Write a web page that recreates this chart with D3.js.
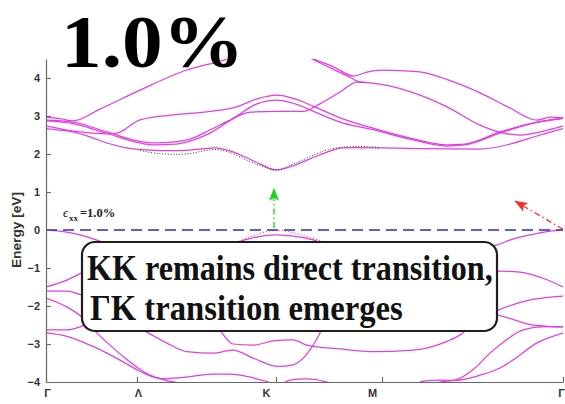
<!DOCTYPE html>
<html>
<head>
<meta charset="utf-8">
<script src="https://cdn.jsdelivr.net/npm/d3@7"></script>
<style>
  body { margin: 0; background: #fff; }
  svg { display: block; }
</style>
</head>
<body>
<svg id="chart" width="565" height="404"></svg>
<script>
// k-path through the Brillouin zone and energy ticks
const kLabels = ["Γ", "Λ", "K", "M", "Γ"];
const kPoints = [0, 0.91, 2.30, 3.36, 5.17];
const energyTicks = [-4, -3, -2, -1, 0, 1, 2, 3, 4];
const strainText = "1.0%";

// conduction bands, [k, E(eV)]
const cbA = [[0,2.97],[0.14,2.93],[0.27,2.87],[0.54,3.18],[0.94,3.68],[1.41,4.21],[1.71,4.42],[1.99,4.62],[2.30,4.78],[2.50,4.72],[2.65,4.53],[2.87,4.30],[3.08,4.05],[3.20,4.15],[3.36,4.21],[3.74,4.16],[4.02,3.95],[4.34,3.61],[4.64,3.21],[4.91,2.89],[5.04,2.97],[5.17,2.95]];
const cbA2 = [[2.50,4.70],[2.70,4.45],[2.88,4.22],[3.04,4.02],[3.11,3.92],[3.20,3.88]];
const cbB = [[0,2.89],[0.27,2.84],[0.61,2.58],[0.94,2.33],[1.09,2.29],[1.29,2.32],[1.44,2.39],[1.64,2.63],[1.84,2.89],[2.04,3.10],[2.30,3.12],[2.57,3.12],[2.74,3.32],[2.94,3.63],[3.11,3.89],[3.34,3.84],[3.74,3.55],[4.01,3.24],[4.34,2.76],[4.54,2.57],[4.74,2.50],[4.99,2.61],[5.17,2.74]];
const cbC = [[0,2.74],[0.34,2.58],[0.61,2.53],[0.71,2.55],[0.94,2.90],[1.27,3.03],[1.64,3.12],[1.91,3.24],[2.11,3.45],[2.31,3.55],[2.49,3.45],[2.67,3.26],[2.94,2.95],[3.27,2.68],[3.64,2.42],[4.01,2.24],[4.19,2.26],[4.54,2.58],[4.91,2.84],[5.17,2.95]];
const cbE = [[0,2.87],[0.27,2.80],[0.61,2.54],[0.94,2.29],[1.09,2.24],[1.29,2.26],[1.44,2.34],[1.64,2.55],[1.89,2.97],[2.11,3.32],[2.31,3.42],[2.49,3.32],[2.67,3.13],[2.94,2.84],[3.27,2.64],[3.64,2.39],[4.01,2.21],[4.19,2.24],[4.54,2.55],[4.91,2.83],[5.17,2.93]];
const cbD = [[0,2.67],[0.14,2.63],[0.27,2.58],[0.44,2.45],[0.61,2.29],[0.79,2.17],[0.94,2.12],[1.14,2.09],[1.34,2.09],[1.54,2.13],[1.69,2.16],[1.84,2.08],[1.99,1.92],[2.14,1.74],[2.30,1.58],[2.46,1.68],[2.64,1.87],[2.79,2.03],[2.97,2.16],[3.14,2.17],[3.36,2.16],[3.74,2.14],[4.34,2.13],[4.64,2.26],[4.94,2.50],[5.17,2.67]];
// unstrained lowest conduction band (dotted)
const cbD0 = [[0.94,2.09],[1.14,2.01],[1.29,1.99],[1.44,2.01],[1.59,2.09],[1.69,2.12],[1.84,2.04],[1.99,1.86],[2.14,1.70],[2.30,1.58],[2.46,1.72],[2.64,1.93],[2.79,2.09],[2.97,2.18],[3.14,2.20],[3.34,2.17]];

// valence bands, [k, E(eV)]
const vb1 = [[0,0],[0.14,-0.03],[0.34,-0.13],[0.57,-0.32],[0.94,-0.58],[1.34,-0.66],[1.69,-0.53],[1.94,-0.30],[2.12,-0.18],[2.30,-0.13],[2.49,-0.17],[2.67,-0.26],[2.94,-0.53],[3.36,-0.68],[3.84,-0.68],[4.24,-0.55],[4.51,-0.39],[4.69,-0.22],[4.84,-0.13],[5.04,-0.03],[5.17,0]];
// unstrained top valence band near K (red dotted)
const vb1Ref = [[1.90,-0.34],[2.04,-0.18],[2.16,-0.07],[2.30,-0.01],[2.44,-0.05],[2.59,-0.16],[2.77,-0.30]];
const vb2 = [[0,-1.50],[0.19,-1.34],[0.36,-1.13],[0.84,-0.84],[1.54,-0.92],[2.30,-1.18],[3.36,-1.45],[4.04,-1.18],[4.52,-1.08],[4.74,-1.11],[4.99,-1.29],[5.17,-1.50]];
const vb3 = [[0,-1.61],[0.21,-1.61],[0.36,-1.71],[0.74,-1.84],[1.54,-2.37],[1.74,-2.66],[1.87,-3.00],[2.07,-3.03],[2.27,-2.92],[2.47,-2.89],[2.61,-3.03],[2.94,-3.13],[3.27,-3.20],[3.67,-3.16],[4.01,-2.93],[4.14,-2.76],[4.19,-2.66],[4.34,-2.32],[4.52,-2.11],[4.84,-1.84],[5.17,-1.74]];
const vb4 = [[0,-1.79],[0.19,-2.00],[0.34,-2.25],[0.49,-2.66],[0.64,-3.03],[0.79,-3.37],[0.91,-3.61],[1.04,-3.82],[1.19,-3.95],[1.39,-4.05],[1.84,-4.26],[2.54,-4.47],[3.36,-4.42],[3.74,-4.16],[3.94,-4.00],[4.09,-3.95],[4.29,-3.63],[4.44,-3.24],[4.59,-2.92],[4.77,-2.63],[4.99,-2.54],[5.17,-2.55]];
const vb5 = [[0,-2.63],[0.21,-2.63],[0.34,-2.55],[0.47,-2.42],[0.74,-2.37],[0.99,-2.66],[1.19,-2.95],[1.41,-3.20],[1.67,-3.24],[1.87,-3.16],[2.07,-3.37],[2.32,-3.59],[2.47,-3.55],[2.61,-3.26],[2.74,-2.71],[2.84,-2.11],[3.36,-1.84],[4.04,-1.97],[4.52,-2.24],[4.69,-2.37],[4.81,-2.47],[4.99,-2.53],[5.17,-2.55]];
const vb6 = [[0,-2.71],[0.21,-2.80],[0.44,-3.03],[0.61,-3.24],[0.79,-3.50],[0.91,-3.68],[1.04,-3.84],[1.17,-3.91],[1.44,-3.86],[1.67,-3.79],[1.84,-3.79],[2.07,-3.89],[2.21,-3.99],[2.32,-4.08],[2.44,-3.95],[2.61,-3.92],[2.81,-4.00],[3.04,-4.21],[3.36,-4.29],[3.64,-4.11],[3.79,-3.97],[3.94,-3.95],[4.09,-3.96],[4.34,-3.82],[4.54,-3.63],[4.67,-3.42],[4.91,-2.97],[5.17,-2.71]];

// transitions: K->K (direct) and Gamma->K
const transKK = [[2.28, 0.05], [2.28, 1.10]];
const transGK = [[5.17, 0.02], [4.69, 0.76]];

const svg = d3.select("#chart");
const margin = { left: 46, right: 2, top: 59, bottom: 22 };
const W = 565, H = 404;

const x = d3.scaleLinear().domain([0, 5.17]).range([margin.left, W - margin.right]);
const y = d3.scaleLinear().domain([-4, 4.5]).range([H - margin.bottom, margin.top]);

const defs = svg.append("defs");
defs.append("clipPath").attr("id", "plotClip")
  .append("rect")
  .attr("x", x(0)).attr("y", y(4.5))
  .attr("width", x(5.17) - x(0)).attr("height", y(-4) - y(4.5));

function arrowMarker(id, color) {
  defs.append("marker")
    .attr("id", id)
    .attr("viewBox", "0 0 13 10")
    .attr("refX", 12.5).attr("refY", 5)
    .attr("markerWidth", 13).attr("markerHeight", 10)
    .attr("markerUnits", "userSpaceOnUse")
    .attr("orient", "auto")
    .append("path")
    .attr("d", "M0,0 L13,5 L0,10 L3,5 Z")
    .attr("fill", color);
}
arrowMarker("headGreen", "#19d419");
arrowMarker("headRed", "#ff2b2b");

const line = d3.line().x(d => x(d[0])).y(d => y(d[1])).curve(d3.curveMonotoneX);

const plot = svg.append("g").attr("clip-path", "url(#plotClip)");

const bands = [cbA, cbA2, cbB, cbC, cbE, cbD, vb1, vb2, vb3, vb4, vb5, vb6];
plot.selectAll("path.band").data(bands).join("path")
  .attr("class", "band")
  .attr("d", line)
  .attr("fill", "none")
  .attr("stroke", "#e23ee2")
  .attr("stroke-width", 1.25);

plot.append("path").attr("d", line(cbD0))
  .attr("fill", "none").attr("stroke", "#333")
  .attr("stroke-width", 1).attr("stroke-dasharray", "1,1.8");

plot.append("path").attr("d", line(vb1Ref))
  .attr("fill", "none").attr("stroke", "#ff5050")
  .attr("stroke-width", 1.1).attr("stroke-dasharray", "1.2,2");

// Fermi level
plot.append("line")
  .attr("x1", x(0)).attr("x2", x(5.17))
  .attr("y1", y(0)).attr("y2", y(0))
  .attr("stroke", "#2b2bc8").attr("stroke-width", 1.3)
  .attr("stroke-dasharray", "11,6");

// axes
const yAxis = d3.axisLeft(y).tickValues(energyTicks).tickSize(-5).tickSizeOuter(0).tickPadding(6);
const gy = svg.append("g").attr("transform", `translate(${x(0)},0)`).call(yAxis);
const xAxis = d3.axisBottom(x).tickValues(kPoints).tickSize(-5).tickSizeOuter(0).tickPadding(7)
  .tickFormat((d, i) => kLabels[i]);
const gx = svg.append("g").attr("transform", `translate(0,${y(-4)})`).call(xAxis);

[gx, gy].forEach(g => {
  g.select(".domain").attr("stroke", "#666").attr("stroke-width", 1.2);
  g.selectAll(".tick line").attr("stroke", "#666").attr("stroke-width", 1.1);
  g.selectAll(".tick text")
    .attr("fill", "#333")
    .style("font-family", "'Liberation Sans', Arial, sans-serif")
    .style("font-weight", "bold")
    .style("font-size", "11px");
});
gx.selectAll(".tick text").attr("dx", (d, i) => (i === 2 || i === 3) ? -10 : (i === 4 ? -2 : 1));

// text stretched horizontally to a given width with its baseline at (tx, ty)
function fitText(parent, str, tx, ty, width, style) {
  const t = parent.append("text").text(str);
  Object.entries(style).forEach(([k, v]) => t.style(k, v));
  const natural = t.node().getComputedTextLength();
  t.attr("transform", `translate(${tx},${ty}) scale(${width / natural},1)`);
  return t;
}

// y-axis title
const yTitle = svg.append("g").attr("transform", `translate(21,${y(0)}) rotate(-90)`);
fitText(yTitle, "Energy [eV]", -38, 0, 76, {
  "font-family": "'Liberation Sans', Arial, sans-serif",
  "font-weight": "bold", "font-size": "12px", "fill": "#333"
});

// strain label
const eps = svg.append("text")
  .attr("x", 63).attr("y", 217)
  .style("font-family", "'Liberation Serif', 'Times New Roman', serif")
  .attr("fill", "#222");
eps.append("tspan").style("font-style", "italic").style("font-size", "13px").text("ϵ");
eps.append("tspan").attr("x", 69).attr("dy", 4).style("font-size", "9px").style("font-weight", "bold").text("xx");
eps.append("tspan").attr("x", 80).attr("dy", -4).style("font-size", "12.5px").style("font-weight", "bold").text("=" + strainText);

// transition arrows
svg.append("path").attr("d", d3.line().x(d => x(d[0])).y(d => y(d[1]))(transKK))
  .attr("stroke", "#19d419").attr("stroke-width", 1.3).attr("fill", "none")
  .attr("stroke-dasharray", "6,3,1.5,3")
  .attr("marker-end", "url(#headGreen)");
svg.append("path").attr("d", d3.line().x(d => x(d[0])).y(d => y(d[1]))(transGK))
  .attr("stroke", "#ff2b2b").attr("stroke-width", 1.3).attr("fill", "none")
  .attr("stroke-dasharray", "6,3,1.5,3")
  .attr("marker-end", "url(#headRed)");

// annotation box
svg.append("rect")
  .attr("x", 82).attr("y", 242).attr("width", 415).attr("height", 89)
  .attr("rx", 13).attr("ry", 13)
  .attr("fill", "#fff").attr("stroke", "#1e1e1e").attr("stroke-width", 2.2);

const noteStyle = {
  "font-family": "'Liberation Serif', 'Times New Roman', serif",
  "font-weight": "bold", "font-size": "36px", "fill": "#111"
};
fitText(svg, "KK remains direct transition,", 87, 280, 406, noteStyle);
fitText(svg, "ΓK transition emerges", 90, 320, 313, noteStyle);

// title
fitText(svg, strainText, 61, 67, 183, {
  "font-family": "'Liberation Serif', 'Times New Roman', serif",
  "font-weight": "bold", "font-size": "75px", "fill": "#000"
});
</script>
</body>
</html>
